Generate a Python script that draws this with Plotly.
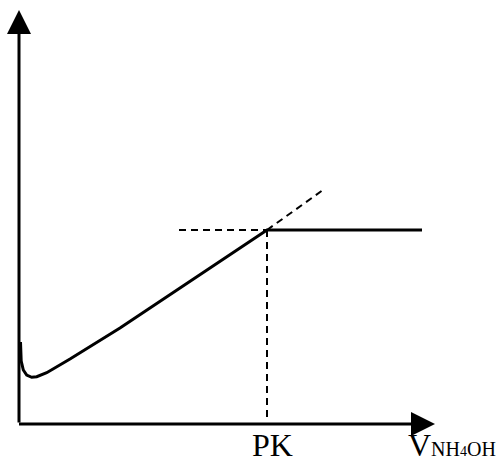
import plotly.graph_objects as go

# Conductivity curve (arbitrary units; origin at axes intersection)
curve_x = [1.5, 1.8, 2.2, 4.3, 7.7, 12.7, 17.7, 27.7, 37.7, 51, 101, 248, 403]
curve_y = [82, 74, 63, 54, 49, 46.7, 47.3, 51.3, 57.3, 65, 96, 194, 194]

# Construction (dashed) lines
hdash_x = [160, 248]
hdash_y = [194, 194]
ext_x = [248, 304]
ext_y = [194, 234]
vdash_x = [248, 248]
vdash_y = [194, 7]

pk_label = "PK"
x_label = ('V<span style="font-size:20px">NH</span><span style="font-size:14px">4</span>'
           '<span style="font-size:20px">OH</span>')

fig = go.Figure()
black = "black"
fig.add_trace(go.Scatter(x=curve_x, y=curve_y, mode="lines",
                         line=dict(color=black, width=3), hoverinfo="skip"))
for xs, ys in [(hdash_x, hdash_y), (ext_x, ext_y), (vdash_x, vdash_y)]:
    fig.add_trace(go.Scatter(x=xs, y=ys, mode="lines", hoverinfo="skip",
                             line=dict(color=black, width=2, dash="7px,5px")))

# Axes with arrows
fig.add_annotation(x=0, y=414, ax=0, ay=0, xref="x", yref="y", axref="x", ayref="y",
                   showarrow=True, arrowhead=2, arrowsize=1.6, arrowwidth=3,
                   arrowcolor=black, text="", standoff=0)
fig.add_annotation(x=416, y=0, ax=-1.5, ay=0, xref="x", yref="y", axref="x", ayref="y",
                   showarrow=True, arrowhead=2, arrowsize=1.6, arrowwidth=3,
                   arrowcolor=black, text="", standoff=0)

fig.add_annotation(x=253, y=-21, text=pk_label, showarrow=False, xanchor="center", yanchor="middle",
                   font=dict(family="Liberation Serif", size=32, color=black))
fig.add_annotation(x=387, y=-21, text=x_label, showarrow=False, xanchor="left", yanchor="middle",
                   font=dict(family="Liberation Serif", size=32, color=black))

fig.update_xaxes(range=[-19, 481], visible=False)
fig.update_yaxes(range=[-44, 424], visible=False)
fig.update_layout(width=500, height=468, margin=dict(l=0, r=0, t=0, b=0),
                  plot_bgcolor="white", paper_bgcolor="white", showlegend=False)

fig.write_html("out.html", config={"displayModeBar": False},
               post_script="document.body.style.margin='0px';")
